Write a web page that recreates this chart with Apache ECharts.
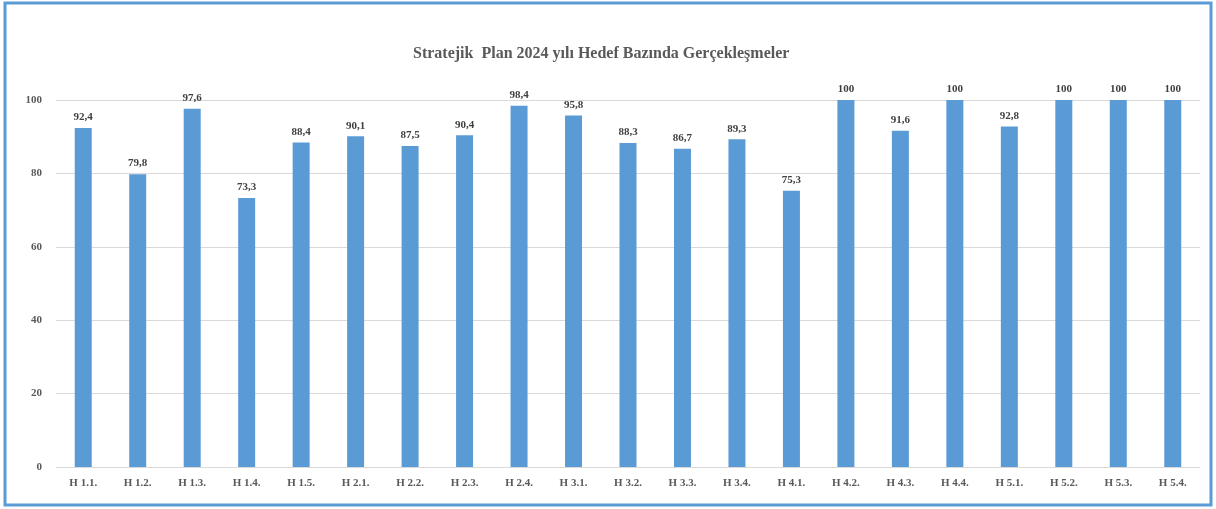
<!DOCTYPE html>
<html><head><meta charset="utf-8">
<script src="https://cdn.jsdelivr.net/npm/echarts@6/dist/echarts.min.js"></script>
<style>html,body{margin:0;padding:0;background:#fff}#c{width:1216px;height:509px}</style>
</head><body><div id="c"></div>
<script>
const categories = ["H 1.1.","H 1.2.","H 1.3.","H 1.4.","H 1.5.","H 2.1.","H 2.2.","H 2.3.","H 2.4.","H 3.1.","H 3.2.","H 3.3.","H 3.4.","H 4.1.","H 4.2.","H 4.3.","H 4.4.","H 5.1.","H 5.2.","H 5.3.","H 5.4."];
const values = [92.4,79.8,97.6,73.3,88.4,90.1,87.5,90.4,98.4,95.8,88.3,86.7,89.3,75.3,100,91.6,100,92.8,100,100,100];
const titleText = "Stratejik  Plan 2024 yılı Hedef Bazında Gerçekleşmeler";
const font = "'Liberation Serif', 'DejaVu Serif', serif";
const chart = echarts.init(document.getElementById('c'));
chart.setOption({
  animation:false,
  title:{text:titleText,left:408,top:41,textStyle:{fontFamily:font,fontSize:16,fontWeight:'bold',color:'#595959'}},
  graphic:[{type:'rect',shape:{x:5,y:3,width:1206,height:502},style:{fill:'none',stroke:'#5B9BD5',lineWidth:3}}],
  grid:{left:56,right:16,top:100,bottom:42},
  xAxis:{type:'category',data:categories,axisTick:{show:false},axisLine:{lineStyle:{color:'#d9d9d9'}},
    axisLabel:{fontFamily:font,fontSize:11,fontWeight:'bold',color:'#595959',margin:11}},
  yAxis:{type:'value',min:0,max:100,interval:20,axisLine:{show:false},axisTick:{show:false},
    splitLine:{lineStyle:{color:'#d9d9d9'}},
    axisLabel:{fontFamily:font,fontSize:11,fontWeight:'bold',color:'#595959',margin:14}},
  series:[{type:'bar',data:values,barWidth:17,itemStyle:{color:'#5B9BD5'},
    label:{show:true,position:'top',distance:5,fontFamily:font,fontSize:11,fontWeight:'bold',color:'#404040',
      formatter:p=>String(p.value).replace('.',',')}}]
});
</script></body></html>
